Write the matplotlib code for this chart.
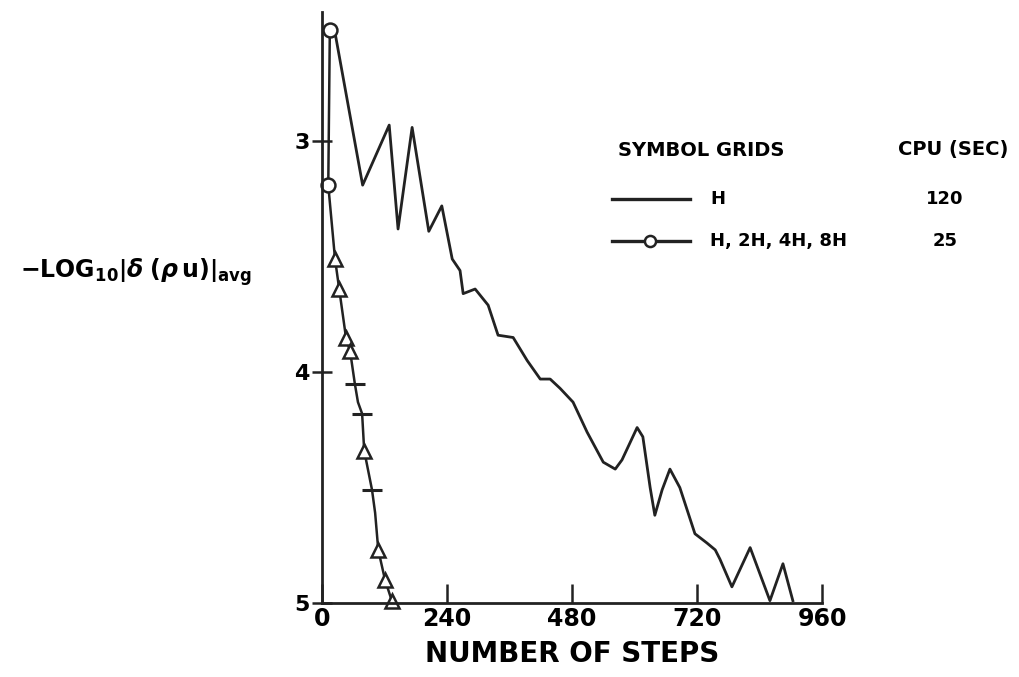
import numpy as np
import matplotlib.pyplot as plt
from matplotlib.lines import Line2D

# single grid H (solid line)
steps_h = [25, 78, 129, 146, 173, 205, 230, 250, 265, 271, 294, 319, 338, 367,
           394, 419, 438, 457, 482, 509, 540, 563, 576, 605, 616, 630, 639, 653,
           668, 687, 716, 739, 755, 764, 787, 822, 860, 885, 904]
resid_h = [2.53, 3.19, 2.93, 3.38, 2.94, 3.39, 3.28, 3.51, 3.56, 3.66, 3.64, 3.71,
           3.84, 3.85, 3.95, 4.03, 4.03, 4.07, 4.13, 4.26, 4.39, 4.42, 4.38, 4.24,
           4.28, 4.50, 4.62, 4.51, 4.42, 4.50, 4.70, 4.74, 4.77, 4.81, 4.93, 4.76,
           4.99, 4.83, 4.99]

# multigrid H, 2H, 4H, 8H
steps_mg = [15, 12, 25, 33, 46, 54, 63, 69, 77, 81, 96, 102, 108, 121, 134]
resid_mg = [2.52, 3.19, 3.51, 3.64, 3.85, 3.91, 4.05, 4.13, 4.18, 4.34, 4.51,
            4.61, 4.77, 4.90, 4.99]

xticks = [0, 240, 480, 720, 960]
yticks = [3, 4, 5]
legend_grids = ['H', 'H, 2H, 4H, 8H']
legend_cpu = ['120', '25']

ink = '#222222'
plt.rcParams['font.family'] = 'DejaVu Sans'
plt.rcParams['font.weight'] = 'bold'

fig = plt.figure(figsize=(10.2, 6.77), dpi=100)
ax = fig.add_axes([0.3157, 0.1093, 0.4902, 0.8730])

ax.plot(steps_h, resid_h, color=ink, lw=2.0, solid_joinstyle='round')
ax.plot(steps_mg, resid_mg, color=ink, lw=1.8, clip_on=False)
# open markers: circles at the grid switches, triangles elsewhere
ax.plot(steps_mg[:2], resid_mg[:2], ls='none', marker='o', ms=10,
        mfc='white', mec=ink, mew=1.8, clip_on=False)
tri = [2, 3, 4, 5, 9, 12, 13, 14]
ax.plot([steps_mg[i] for i in tri], [resid_mg[i] for i in tri], ls='none',
        marker='^', ms=10, mfc='white', mec=ink, mew=1.8, clip_on=False)
tk = [6, 8, 10]
ax.plot([steps_mg[i] for i in tk], [resid_mg[i] for i in tk], ls='none',
        marker='_', ms=14, mec=ink, mew=2.2)

ax.set_xlim(0, 960)
ax.set_ylim(5.0, 2.44)
ax.set_xticks(xticks)
ax.set_yticks(yticks)
ax.set_xticklabels([str(v) for v in xticks], fontsize=17, fontweight='bold')
ax.set_yticklabels([str(v) for v in yticks], fontsize=16, fontweight='bold')
ax.tick_params(axis='x', direction='in', length=14, width=1.8, color=ink, pad=3)
ax.tick_params(axis='y', direction='inout', length=14, width=1.8, color=ink, pad=2)
for s in ['top', 'right']:
    ax.spines[s].set_visible(False)
for s in ['left', 'bottom']:
    ax.spines[s].set_linewidth(2.0)
    ax.spines[s].set_color(ink)
ax.set_xlabel('NUMBER OF STEPS', fontsize=20, fontweight='bold', labelpad=6)

fig.text(0.02, 1 - 272 / 677,
         r'$-\mathbf{LOG}_{\mathbf{10}}\left|\delta\;(\rho\,\mathbf{u})\right|_{\mathbf{avg}}$',
         fontsize=17, ha='left', va='center')

# hand-made legend table
fig.text(618 / 1020, 1 - 150 / 677, 'SYMBOL GRIDS', fontsize=14,
         fontweight='bold', va='center')
fig.text(898 / 1020, 1 - 150 / 677, 'CPU (SEC)', fontsize=14,
         fontweight='bold', va='center')
rows_y = [1 - 199 / 677, 1 - 241 / 677]
for i, yy in enumerate(rows_y):
    fig.add_artist(Line2D([612 / 1020, 690 / 1020], [yy, yy], color=ink, lw=2.4,
                          transform=fig.transFigure))
    if i == 1:
        fig.add_artist(Line2D([650 / 1020], [yy], marker='o', ms=8, mfc='white',
                              mec=ink, mew=1.8, transform=fig.transFigure))
    fig.text(710 / 1020, yy, legend_grids[i], fontsize=13, fontweight='bold',
             va='center')
    fig.text(945 / 1020, yy, legend_cpu[i], fontsize=13, fontweight='bold',
             va='center', ha='center')

fig.savefig('out.png', dpi=100)
